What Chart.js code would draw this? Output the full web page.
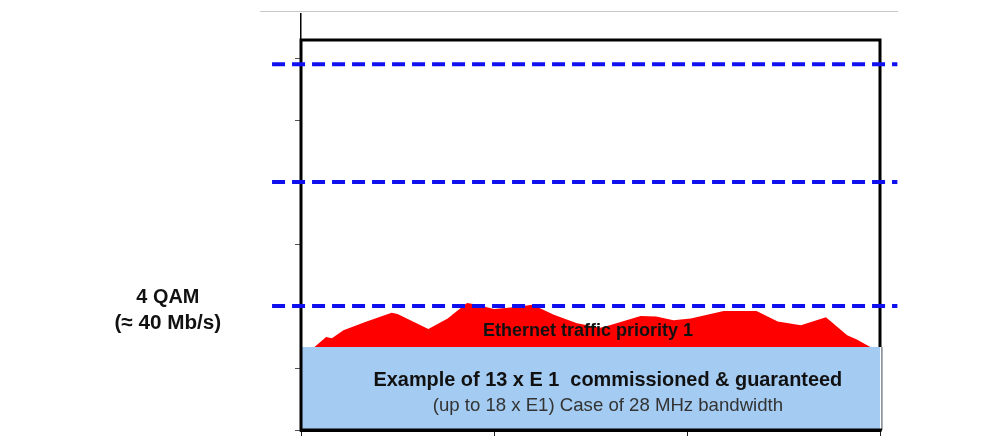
<!DOCTYPE html>
<html>
<head>
<meta charset="utf-8">
<script src="https://cdn.jsdelivr.net/npm/chart.js@4/dist/chart.umd.min.js"></script>
<style>
  html, body { margin: 0; padding: 0; background: #fff; }
  #wrap { width: 1008px; height: 442px; position: relative; }
</style>
</head>
<body>
<div id="wrap"><canvas id="qamChart"></canvas></div>
<script>
// traffic profile (Ethernet priority 1), x in axis units 0..3, y in axis units
var trafficX = [0.07, 0.13, 0.16, 0.22, 0.34, 0.47, 0.50, 0.66, 0.76, 0.86, 0.90, 1.00, 1.10, 1.20, 1.31, 1.43, 1.55, 1.60, 1.76, 1.84, 1.93, 2.02, 2.19, 2.36, 2.47, 2.59, 2.72, 2.83, 2.88, 2.95];
var trafficY = [1.34, 1.50, 1.48, 1.61, 1.75, 1.89, 1.87, 1.63, 1.80, 2.05, 2.03, 1.95, 1.98, 2.02, 1.86, 1.72, 1.65, 1.69, 1.84, 1.83, 1.77, 1.80, 1.92, 1.92, 1.75, 1.69, 1.82, 1.53, 1.46, 1.34];

// modulation capacity levels (dashed)
var levelValues = [2.0, 4.0, 5.9];
var levelSpan = [-0.15, 3.09];

// guaranteed E1 block and outer frame
var e1Top = 1.34;
var e1Right = 3.01;
var frameTop = 6.29;
var xTicks = [0, 1, 2, 3];
var yTicks = [0, 1, 2, 3, 4, 5, 6];

var labels = {
  qam: '4 QAM',
  rate: '(\u2248 40 Mb/s)',
  eth: 'Ethernet traffic priority 1',
  e1: 'Example of 13 x E 1  commissioned & guaranteed',
  e1sub: '(up to 18 x E1) Case of 28 MHz bandwidth'
};

function pts(xs, ys) {
  return xs.map(function (x, i) { return { x: x, y: ys[i] }; });
}

var datasets = [];

levelValues.forEach(function (v) {
  datasets.push({
    data: pts(levelSpan, [v, v]),
    borderColor: '#1010ee',
    borderWidth: 4,
    borderDash: [13, 7],
    pointRadius: 0,
    fill: false,
    clip: false,
    order: 1
  });
});

// frame: right side stops on top of the E1 block
datasets.push({
  data: pts([3, 3, 0, 0, e1Right], [e1Top, frameTop, frameTop, 0, 0]),
  borderColor: '#000',
  borderWidth: 3,
  pointRadius: 0,
  fill: false,
  clip: false,
  order: 2
});

// thin edge on the right of the E1 block
datasets.push({
  data: pts([e1Right, e1Right], [0, e1Top]),
  borderColor: '#3a4a5a',
  borderWidth: 1,
  pointRadius: 0,
  fill: false,
  clip: false,
  order: 2
});

datasets.push({
  data: pts([0, e1Right], [e1Top, e1Top]),
  borderWidth: 0,
  borderColor: 'rgba(0,0,0,0)',
  backgroundColor: '#a4cbf1',
  pointRadius: 0,
  fill: 'origin',
  clip: false,
  order: 3
});

datasets.push({
  data: pts(trafficX, trafficY),
  borderWidth: 0,
  borderColor: 'rgba(0,0,0,0)',
  backgroundColor: '#ff0000',
  pointRadius: 0,
  fill: 'origin',
  order: 4
});

function fitFont(ctx, text, width, weight, family) {
  ctx.font = weight + ' 20px ' + family;
  var size = 20 * width / ctx.measureText(text).width;
  ctx.font = weight + ' ' + size.toFixed(1) + 'px ' + family;
}

var textPlugin = {
  id: 'textPlugin',
  afterDraw: function (chart) {
    var ctx = chart.ctx;
    var xs = chart.scales.x, ys = chart.scales.y;
    var fam = '"Liberation Sans", Arial, sans-serif';
    ctx.save();
    // faint top rule
    ctx.strokeStyle = '#c8c8c8';
    ctx.lineWidth = 1;
    ctx.beginPath();
    ctx.moveTo(260, 11.5);
    ctx.lineTo(898, 11.5);
    ctx.stroke();

    ctx.textAlign = 'center';
    ctx.textBaseline = 'middle';
    ctx.fillStyle = '#111';
    fitFont(ctx, labels.qam, 63, 'bold', fam);
    ctx.fillText(labels.qam, xs.getPixelForValue(-0.69), ys.getPixelForValue(2.14));
    fitFont(ctx, labels.rate, 107, 'bold', fam);
    ctx.fillText(labels.rate, xs.getPixelForValue(-0.69), ys.getPixelForValue(1.72));
    fitFont(ctx, labels.eth, 210, 'bold', fam);
    ctx.fillText(labels.eth, xs.getPixelForValue(1.487), ys.getPixelForValue(1.60));
    fitFont(ctx, labels.e1, 468, 'bold', fam);
    ctx.fillText(labels.e1, xs.getPixelForValue(1.59), ys.getPixelForValue(0.80));
    ctx.fillStyle = '#333';
    fitFont(ctx, labels.e1sub, 350, 'normal', fam);
    ctx.fillText(labels.e1sub, xs.getPixelForValue(1.59), ys.getPixelForValue(0.385));
    ctx.restore();
  }
};

var chart = new Chart(document.getElementById('qamChart'), {
  type: 'line',
  data: { datasets: datasets },
  options: {
    responsive: true,
    maintainAspectRatio: false,
    animation: false,
    devicePixelRatio: 1,
    layout: { padding: { top: 14, right: 128, bottom: 0, left: 0 } },
    plugins: { legend: { display: false }, tooltip: { enabled: false } },
    elements: { line: { tension: 0 } },
    scales: {
      x: {
        type: 'linear',
        min: 0,
        max: 3,
        afterBuildTicks: function (s) { s.ticks = xTicks.map(function (v) { return { value: v }; }); },
        ticks: { callback: function () { return ''; } },
        grid: { drawOnChartArea: false, tickLength: 6, color: '#222', lineWidth: 1 },
        border: { color: '#000', width: 3 },
        afterFit: function (s) { s.height = 12; }
      },
      y: {
        type: 'linear',
        min: 0,
        max: 6.71,
        afterBuildTicks: function (s) { s.ticks = yTicks.map(function (v) { return { value: v }; }); },
        ticks: { callback: function () { return ''; } },
        grid: { drawOnChartArea: false, tickLength: 6, color: '#555', lineWidth: 1 },
        border: { color: '#000', width: 1.5 },
        afterFit: function (s) { s.width = 301; }
      }
    }
  },
  plugins: [textPlugin]
});
</script>
</body>
</html>
